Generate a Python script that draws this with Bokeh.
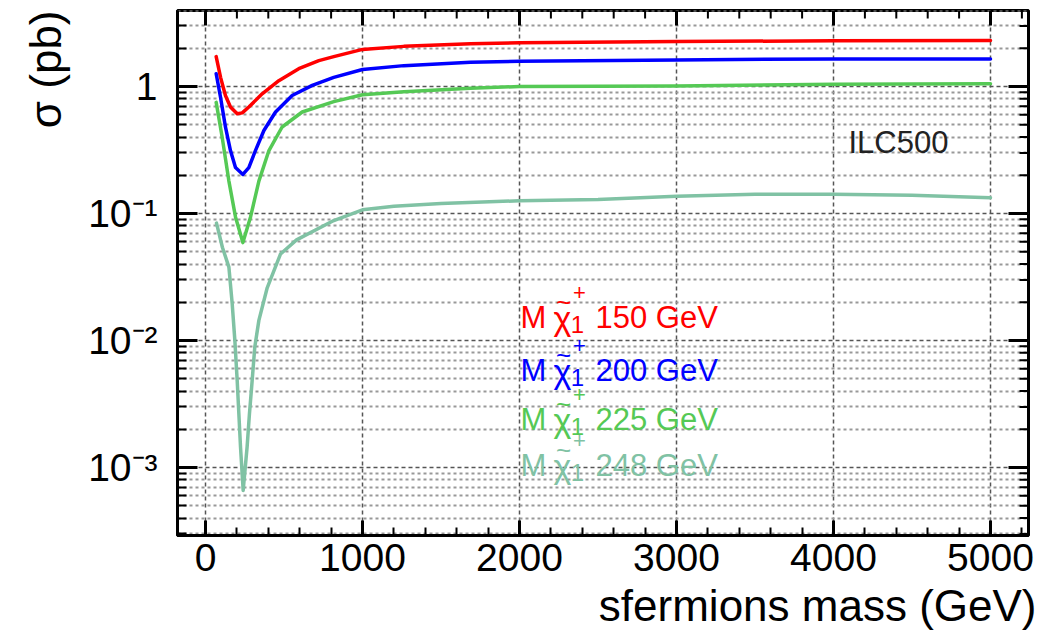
import math
from bokeh.plotting import figure
from bokeh.models import Range1d, FixedTicker, Label, Title
from bokeh.embed import file_html
from bokeh.resources import INLINE

# ---------------- data ----------------
mass_150 = [68, 96, 127, 159, 202, 234, 276, 361, 467, 594, 722, 817, 1000, 1263, 1688, 2000, 3000, 4000, 5000]
xsec_150 = [1.72, 1.18, 0.85, 0.69, 0.61, 0.62, 0.69, 0.875, 1.11, 1.38, 1.60, 1.72, 1.96, 2.07, 2.17, 2.21, 2.26, 2.29, 2.30]

mass_200 = [68, 96, 127, 159, 191, 238, 276, 318, 372, 446, 552, 680, 817, 1000, 1263, 1688, 2000, 3000, 4000, 5000]
xsec_200 = [1.26, 0.82, 0.48, 0.313, 0.23, 0.203, 0.23, 0.313, 0.45, 0.63, 0.85, 1.02, 1.18, 1.36, 1.46, 1.55, 1.58, 1.62, 1.65, 1.65]

mass_225 = [68, 106, 149, 191, 238, 287, 340, 404, 488, 616, 817, 1000, 1263, 1688, 2000, 3000, 4000, 5000]
xsec_225 = [0.75, 0.40, 0.18, 0.094, 0.059, 0.094, 0.18, 0.313, 0.48, 0.63, 0.76, 0.86, 0.91, 0.97, 1.0, 1.01, 1.04, 1.05]

mass_248 = [70, 108, 149, 170, 187, 202, 223, 240, 265, 280, 297, 314, 340, 393, 478, 580, 817, 1000,
            1200, 1500, 2000, 2500, 3000, 3500, 4000, 4500, 5000]
xsec_248 = [0.084, 0.054, 0.0378, 0.0195, 0.010, 0.0048, 0.00145, 0.00066, 0.00145, 0.00266, 0.0048,
            0.0089, 0.0144, 0.026, 0.048, 0.062, 0.088, 0.107, 0.114, 0.12, 0.126, 0.129, 0.137, 0.142,
            0.142, 0.139, 0.133]

series_masses = ["150", "200", "225", "248"]
series_colors = ["#ff0000", "#0000ff", "#55c955", "#80c2a4"]

x_ticks = [0, 1000, 2000, 3000, 4000, 5000]
x_minor = [v for v in range(200, 5400, 200) if v % 1000 != 0]
y_ticks = [1e-3, 1e-2, 1e-1, 1.0]
y_tick_labels = ["10\u207b\u00b3", "10\u207b\u00b2", "10\u207b\u00b9", "1"]
y_minor = [m * 10.0 ** e for e in range(-4, 1) for m in range(2, 10)]

x_title = "sfermions mass (GeV)"
y_title = "\u03c3 (pb)"

# ---------------- layout (page pixels) ----------------
FONT = "Liberation Sans"
W, H = 1041, 636
X0, PXG, Y1, PXD = 205.0, 0.157, 86.0, 127.0   # x=0 px, px per GeV, sigma=1 px, px per decade
L, R, T, B = 177, 1028, 10, 535


def gx(px):
    return (px - X0) / PXG


def gy(py):
    return 10 ** ((Y1 - py) / PXD)


x0d, x1d = gx(L), gx(R)
y0d, y1d = gy(B), gy(T)

p = figure(width=W, height=H, output_backend="svg", toolbar_location=None,
           y_axis_type="log",
           x_range=Range1d(x0d, x1d), y_range=Range1d(y0d, y1d),
           min_border_left=L, min_border_right=W - R,
           min_border_top=T, min_border_bottom=H - B)
p.outline_line_color = "black"
p.outline_line_width = 3
p.background_fill_color = "white"
p.border_fill_color = "white"

xt = FixedTicker(ticks=x_ticks, minor_ticks=x_minor)
yt = FixedTicker(ticks=y_ticks, minor_ticks=y_minor)


def style_axis(ax, major_in, minor_in, standoff):
    ax.major_tick_in = major_in
    ax.major_tick_out = 0
    ax.minor_tick_in = minor_in
    ax.minor_tick_out = 0
    ax.major_tick_line_width = 3
    ax.minor_tick_line_width = 2
    ax.major_tick_line_color = "black"
    ax.minor_tick_line_color = "black"
    ax.axis_line_width = 3
    ax.axis_line_color = "black"
    ax.major_label_text_font = FONT
    ax.major_label_text_font_size = "39px"
    ax.major_label_text_color = "black"
    ax.major_label_standoff = standoff


xb = p.xaxis[0]
xb.ticker = xt
style_axis(xb, 15, 8, 8)

yl = p.yaxis[0]
yl.ticker = yt
style_axis(yl, 20, 9, 20)
yl.major_label_overrides = {v: s for v, s in zip(y_ticks, y_tick_labels)}

p.xgrid.ticker = xt
p.ygrid.ticker = yt
p.xgrid.grid_line_color = "#555555"
p.xgrid.grid_line_dash = "4 3"
p.xgrid.grid_line_width = 1.5
p.ygrid.grid_line_color = "#555555"
p.ygrid.grid_line_dash = "4 3"
p.ygrid.grid_line_width = 1.5
p.ygrid.minor_grid_line_color = "#999999"
p.ygrid.minor_grid_line_dash = "3 3"
p.ygrid.minor_grid_line_width = 1.8

# ---------------- inward ticks on right and top ----------------
def xlen(n):
    return n / PXG


ymaj = [v for v in y_ticks if y0d <= v <= y1d]
ymin = [v for v in y_minor if y0d <= v <= y1d]
p.segment(x0=[x1d] * len(ymaj), y0=ymaj, x1=[x1d - xlen(20)] * len(ymaj), y1=ymaj, line_color="black", line_width=3)
p.segment(x0=[x1d] * len(ymin), y0=ymin, x1=[x1d - xlen(9)] * len(ymin), y1=ymin, line_color="black", line_width=2)
f15 = 10 ** (-15 / PXD)
f8 = 10 ** (-8 / PXD)
p.segment(x0=x_ticks, y0=[y1d] * len(x_ticks), x1=x_ticks, y1=[y1d * f15] * len(x_ticks), line_color="black", line_width=3)
p.segment(x0=x_minor, y0=[y1d] * len(x_minor), x1=x_minor, y1=[y1d * f8] * len(x_minor), line_color="black", line_width=2)

# ---------------- curves ----------------
for xs, ys, col in zip([mass_150, mass_200, mass_225, mass_248],
                       [xsec_150, xsec_200, xsec_225, xsec_248], series_colors):
    p.line(xs, ys, line_color=col, line_width=3.5, line_join="round", line_cap="round")

# ---------------- axis titles ----------------
p.add_layout(Title(text=y_title, align="right", text_font=FONT, text_font_size="44px",
                   text_font_style="normal", text_color="black", standoff=32), "left")
p.add_layout(Title(text=x_title, align="right", text_font=FONT, text_font_size="44px",
                   text_font_style="normal", text_color="black", standoff=11, offset=-8), "below")

# ---------------- annotation ----------------
p.add_layout(Label(x=gx(848), y=gy(142), text="ILC500", text_align="left", text_baseline="middle",
                   text_font=FONT, text_font_size="31px", text_color="#222222"))

baselines = [317, 370, 419, 465]
for m, col, b in zip(series_masses, series_colors, baselines):
    common = dict(text_font=FONT, text_color=col)
    p.add_layout(Label(x=gx(520), y=gy(b), text="M", text_align="left", text_baseline="alphabetic",
                       text_font_size="31px", **common))
    p.add_layout(Label(x=gx(553), y=gy(b), text="\u03c7", text_align="left", text_baseline="alphabetic",
                       text_font_size="34px", **common))
    p.add_layout(Label(x=gx(563), y=gy(b - 16), text="~", text_align="center", text_baseline="middle",
                       text_font_size="26px", **common))
    p.add_layout(Label(x=gx(579), y=gy(b - 25), text="+", text_align="center", text_baseline="middle",
                       text_font_size="22px", **common))
    p.add_layout(Label(x=gx(577), y=gy(b + 7), text="1", text_align="center", text_baseline="middle",
                       text_font_size="24px", **common))
    p.add_layout(Label(x=gx(595), y=gy(b), text=m + " GeV", text_align="left", text_baseline="alphabetic",
                       text_font_size="31px", **common))

open("out.html", "w").write(file_html(p, INLINE))
